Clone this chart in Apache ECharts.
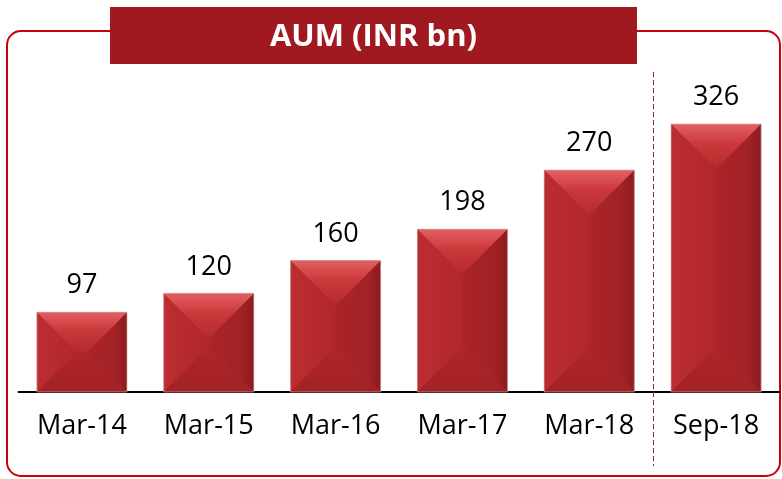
<!DOCTYPE html>
<html><head><meta charset="utf-8">
<script src="https://cdn.jsdelivr.net/npm/echarts@6/dist/echarts.min.js"></script>
<style>html,body{margin:0;padding:0;background:#fff}#c{width:782px;height:479px}</style>
</head><body><div id="c"></div>
<script>
const categories = ['Mar-14','Mar-15','Mar-16','Mar-17','Mar-18','Sep-18'];
const aum = [97,120,160,198,270,326];
const titleText = 'AUM (INR bn)';

const chart = echarts.init(document.getElementById('c'), null, {renderer:'canvas'});
const FONT = '"Open Sans", sans-serif';

function renderBevel(params, api){
  const i = api.value(0), v = api.value(1);
  const top = api.coord([i, v]);
  const bot = api.coord([i, 0]);
  const w = api.size([1,0])[0]*0.71;
  const x0 = top[0]-w/2, x1 = top[0]+w/2, y0 = top[1], y1 = bot[1];
  const h = y1-y0;
  const d = Math.min(w/2, h/2);
  const ix0 = x0+d, ix1 = x1-d, iy0 = y0+d, iy1 = y1-d;
  const LG = echarts.graphic.LinearGradient;
  return {type:'group', children:[
    {type:'rect', shape:{x:x0,y:y0,width:w,height:h}, style:{fill:'#ad2529'}},
    {type:'polygon', shape:{points:[[x0,y0],[ix0,iy0],[ix0,iy1],[x0,y1]]}, style:{fill:new LG(0,0,1,0,[{offset:0,color:'#bb2d31'},{offset:1,color:'#b2272b'}])}},
    {type:'polygon', shape:{points:[[x1,y0],[x1,y1],[ix1,iy1],[ix1,iy0]]}, style:{fill:new LG(0,0,1,0,[{offset:0,color:'#ab2428'},{offset:0.7,color:'#a22226'},{offset:1,color:'#8c1b1e'}])}},
    {type:'polygon', shape:{points:[[x0,y0],[x1,y0],[ix1,iy0],[ix0,iy0]]}, style:{fill:new LG(0,0,0,1,[{offset:0,color:'#e46062'},{offset:0.45,color:'#c9383b'},{offset:1,color:'#b52a2e'}])}},
    {type:'polygon', shape:{points:[[x0,y1],[ix0,iy1],[ix1,iy1],[x1,y1]]}, style:{fill:new LG(0,0,0,1,[{offset:0,color:'#ae2629'},{offset:1,color:'#a22226'}])}},
    {type:'rect', shape:{x:x0,y:y0,width:w,height:h}, style:{fill:null,stroke:'rgba(205,160,160,0.7)',lineWidth:1}}
  ]};
}

chart.setOption({
  animation:false,
  grid:{left:18.5, right:2.5, top:60, bottom:87},
  xAxis:{type:'category', data:categories,
    axisLine:{lineStyle:{color:'#000',width:2}}, axisTick:{show:false},
    axisLabel:{color:'#000', fontSize:27, fontFamily:FONT, margin:21}},
  yAxis:{type:'value', min:0, max:404, show:false, splitLine:{show:false}},
  series:[
    {type:'custom', renderItem:renderBevel, data:aum.map((v,i)=>[i,v]), z:2},
    {type:'bar', data:aum, barWidth:'71%', itemStyle:{color:'rgba(0,0,0,0)'}, z:3,
     label:{show:true, position:'top', distance:13, color:'#000', fontSize:27, fontFamily:FONT}}
  ]
});

const xa = chart.convertToPixel({xAxisIndex:0}, 4);
const xb = chart.convertToPixel({xAxisIndex:0}, 5);
const xm = Math.round((xa+xb)/2)+0.5;
chart.setOption({graphic:[
  {type:'rect', shape:{x:7,y:31,width:773,height:445,r:14}, style:{fill:null,stroke:'#c8000a',lineWidth:2}, z:0},
  {type:'line', shape:{x1:xm,y1:72,x2:xm,y2:466}, style:{stroke:'#b01c24',lineWidth:1,lineDash:[5,3]}, z:1},
  {type:'rect', shape:{x:110,y:7,width:527,height:57}, style:{fill:'#a01820'}, z:5},
  {type:'text', x:373.5, y:37, style:{text:titleText, fill:'#fff', font:'bold 31px "Open Sans", sans-serif', textAlign:'center', textVerticalAlign:'middle'}, z:6}
]});
</script></body></html>
